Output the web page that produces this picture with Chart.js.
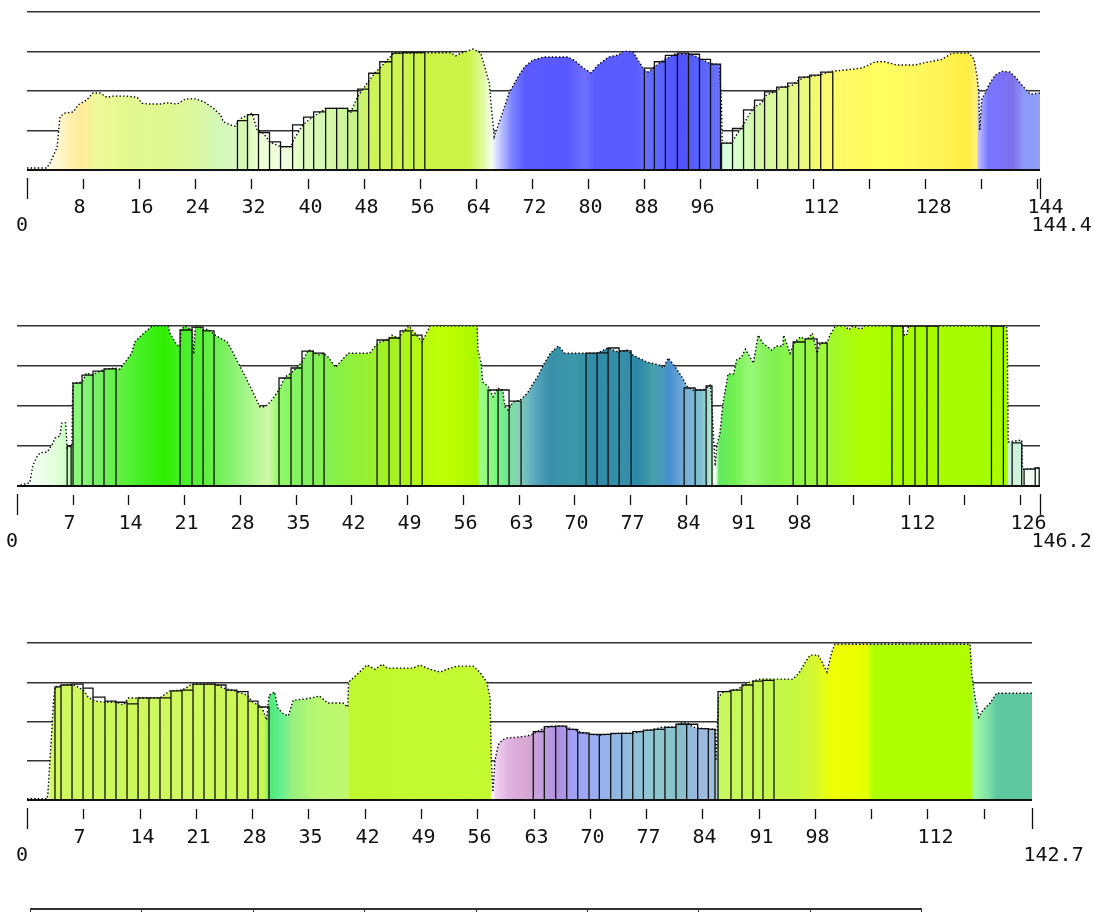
<!DOCTYPE html>
<html>
<head>
<meta charset="utf-8">
<script src="https://cdn.jsdelivr.net/npm/chart.js@4.4.1/dist/chart.umd.min.js"></script>
<style>
  body { margin: 0; background: #fff; width: 1094px; height: 912px; overflow: hidden; position: relative; }
  canvas { position: absolute; left: 0; }
  #c1 { top: 0; }
  #c2 { top: 300px; }
  #c3 { top: 620px; }
  #legendRow { position: absolute; left: 30px; top: 908px; width: 892px; height: 8px; display: flex;
               border-top: 2px solid #333; }
  #legendRow div { flex: 1; border-left: 1.5px solid #333; }
  #legendRow div:last-child { border-right: 1.5px solid #333; }
</style>
</head>
<body>
<canvas id="c1" width="1094" height="240"></canvas>
<canvas id="c2" width="1094" height="260"></canvas>
<canvas id="c3" width="1094" height="260"></canvas>
<div id="legendRow"><div></div><div></div><div></div><div></div><div></div><div></div><div></div><div></div></div>
<script>
// ---- panel 1 ----
const p1Max = 144.4;
const p1EndLabel = '144.4';
const p1Ticks = [0, 8, 16, 24, 32, 40, 48, 56, 64, 72, 80, 88, 96, 104, 112, 120, 128, 136, 144];
const p1TickLabels = ['', '8', '16', '24', '32', '40', '48', '56', '64', '72', '80', '88', '96', '', '112', '', '128', '', '144'];
const p1Profile = [
  [0, 0.05], [2.8, 0.05], [3.3, 0.18], [4.3, 0.58], [4.7, 1.35], [5.4, 1.44], [6.6, 1.47], [7.3, 1.65],
  [8.5, 1.77], [9.4, 1.95], [10.4, 1.95], [11.4, 1.84], [12.3, 1.87], [14.2, 1.87], [15.7, 1.84], [16.4, 1.69],
  [17.3, 1.67], [19, 1.67], [20, 1.7], [21.4, 1.67], [22.6, 1.8], [24, 1.8], [25.2, 1.73], [26.6, 1.56],
  [27.6, 1.39], [28, 1.22], [29, 1.14], [29.7, 1.11], [30.4, 1.3], [31.4, 1.39], [32.1, 1.44], [32.8, 1.01],
  [33.7, 0.93], [34.6, 0.71], [36.1, 0.59], [37.6, 0.59], [38, 0.76], [39.3, 1.14], [40.7, 1.34], [41.9, 1.47],
  [42.6, 1.56], [45.7, 1.56], [46.1, 1.44], [47.1, 1.85], [48.5, 2.2], [49.7, 2.48], [50.4, 2.6], [51.6, 2.83],
  [52.3, 2.96], [60.4, 2.97], [61.1, 2.89], [61.9, 2.96], [63.6, 3.06], [64.7, 2.96], [65.1, 2.7], [65.9, 2.2],
  [66.1, 1.77], [66.6, 0.84], [67.6, 1.35], [68.7, 1.94], [70, 2.36], [70.9, 2.61], [72.1, 2.78], [73.6, 2.86],
  [77.1, 2.86], [78, 2.78], [79.3, 2.58], [80.4, 2.46], [81.4, 2.66], [82.9, 2.86], [84.3, 2.91], [85.1, 3.01],
  [86.4, 2.99], [87.1, 2.78], [88, 2.53], [88.6, 2.48], [89.4, 2.61], [90.9, 2.8], [92.3, 2.93], [94.7, 2.93],
  [95.9, 2.83], [97.3, 2.7], [98.7, 2.66], [99, 1.69], [99.1, 0.68], [100.4, 0.68], [101.6, 1.01], [102.1, 1.14],
  [102.9, 1.39], [103.7, 1.6], [104.7, 1.69], [105.4, 1.9], [106.6, 1.98], [107.6, 2.1], [109, 2.13], [109.7, 2.25],
  [110.9, 2.35], [112.9, 2.4], [114.7, 2.5], [116.6, 2.53], [119, 2.58], [120, 2.66], [120.9, 2.74], [122.3, 2.74],
  [123.9, 2.66], [126.6, 2.66], [128.6, 2.74], [130.4, 2.8], [131.9, 2.96], [134.3, 2.96], [135, 2.8], [135.4, 2.4],
  [135.7, 1.95], [135.8, 1.0], [136.1, 1.8], [136.6, 1.95], [137.1, 2.15], [138, 2.4], [139, 2.5], [140.1, 2.48],
  [140.9, 2.35], [141.9, 2.13], [143, 1.92], [144.4, 1.95]
];
const p1BarEdges = [
  [30.0, 31.43, 33.0, 34.57, 36.14, 37.86, 39.43, 40.86, 42.57, 44.14, 45.71, 47.14, 48.71, 50.29, 52.0, 53.57, 55.14, 56.71],
  [88.0, 89.43, 91.0, 92.71, 94.29, 95.86, 97.43, 98.86],
  [99.0, 100.57, 102.14, 103.71, 105.14, 106.86, 108.43, 110.0, 111.57, 113.14, 114.86]
];
const p1BarTops = [
  [1.25, 1.4, 0.95, 0.71, 0.59, 1.14, 1.34, 1.47, 1.56, 1.56, 1.5, 2.05, 2.45, 2.74, 2.96, 2.97, 2.97],
  [2.58, 2.74, 2.9, 2.96, 2.93, 2.8, 2.68],
  [0.68, 1.05, 1.52, 1.77, 1.98, 2.1, 2.2, 2.35, 2.4, 2.48]
];
const p1Colors = [
  [0, '#fffbe8'], [3, '#fffbe8'], [4.5, '#fff8d0'], [6, '#fff0b0'], [8, '#ffec98'], [10, '#eefa9a'],
  [14, '#e4f890'], [20, '#e0f890'], [24, '#dcf8a0'], [27, '#d4f8b8'], [29.5, '#d8f8c0'], [31, '#d8f8b0'],
  [33, '#ecffd8'], [37, '#f2ffe0'], [39, '#e0fcc0'], [43, '#d4f8a8'], [47, '#c8f288'], [48.5, '#cef45a'],
  [56, '#ccf448'], [63, '#ccf448'], [65, '#e0faa0'], [66.3, '#f4fff0'], [66.6, '#e8ecff'], [69, '#8088ff'],
  [71, '#5a5aff'], [77, '#5858ff'], [79.5, '#7070ff'], [81, '#5a5cff'], [87, '#5a5cff'], [88, '#6a70ff'],
  [90, '#5a66ff'], [93, '#5050ff'], [96, '#5a64ff'], [98.9, '#6a70ff'], [99, '#d8ffe4'], [101, '#d8ffd0'],
  [104, '#d4f8a8'], [108, '#e0f890'], [112, '#f0f878'], [114, '#fff870'], [118, '#fffa60'], [122, '#fffe60'],
  [126, '#fff860'], [130, '#fff458'], [134, '#ffee40'], [135.4, '#fff080'], [135.6, '#c0c0ff'], [137, '#7878ff'],
  [139, '#7c70f8'], [140.5, '#8070e8'], [142, '#8c98f8'], [144.4, '#90a0f8']
];

// ---- panel 2 ----
const p2Max = 128.5;
const p2EndLabel = '146.2';
const p2Ticks = [0, 7, 14, 21, 28, 35, 42, 49, 56, 63, 70, 77, 84, 91, 98, 105, 112, 119, 126];
const p2TickLabels = ['', '7', '14', '21', '28', '35', '42', '49', '56', '63', '70', '77', '84', '91', '98', '', '112', '', '126'];
const p2Profile = [
  [0, 0], [1.6, 0.08], [2.0, 0.52], [2.5, 0.73], [2.9, 0.83], [3.8, 0.85], [4.4, 1.03], [4.8, 1.2], [5.4, 1.25],
  [5.6, 1.57], [6.1, 1.58], [6.3, 0.95], [6.9, 1.0], [7.0, 2.57], [8.2, 2.6], [8.7, 2.82], [9.5, 2.78],
  [10.4, 2.87], [11.1, 2.92], [12.3, 2.95], [12.9, 2.92], [13.6, 3.1], [14.4, 3.32], [14.8, 3.6], [15.9, 3.82],
  [17, 4], [19, 4], [19.2, 3.82], [20.1, 3.52], [20.5, 3.5], [20.6, 3.9], [21.1, 4], [22, 3.9], [22.2, 3.3],
  [22.4, 4], [22.8, 4], [23.4, 3.9], [24, 3.92], [24.9, 3.77], [26.4, 3.6], [27.1, 3.35], [27.8, 3.07],
  [28.7, 2.73], [29.7, 2.32], [30.5, 1.98], [31.2, 1.98], [32, 2.15], [32.9, 2.4], [33.7, 2.73], [34.4, 2.82],
  [35.1, 2.95], [35.8, 3.1], [36.6, 3.4], [37.2, 3.37], [37.8, 3.27], [38.5, 3.32], [39.1, 3.22], [40, 2.97],
  [40.6, 3.1], [41.6, 3.32], [44.3, 3.32], [45, 3.5], [45.6, 3.6], [46.5, 3.65], [47.1, 3.77], [47.9, 3.7],
  [48.5, 3.85], [49.2, 4], [50, 3.82], [50.9, 3.6], [51.5, 3.85], [51.9, 4], [57.8, 4], [57.9, 3.4],
  [58.3, 3.07], [58.5, 2.6], [59.2, 2.48], [59.8, 2.23], [60.4, 2.45], [61, 2.4], [61.3, 1.98], [61.7, 1.9],
  [62.3, 2.1], [63.2, 2.15], [64.1, 2.32], [64.7, 2.52], [65.5, 2.77], [66.1, 3.02], [67, 3.32], [68, 3.5],
  [68.8, 3.32], [72.9, 3.32], [74.2, 3.45], [75.5, 3.35], [76.6, 3.4], [77.4, 3.27], [79.1, 3.1], [80.8, 3.02],
  [81.2, 2.95], [81.8, 3.2], [82.7, 2.97], [83.5, 2.73], [84.2, 2.48], [84.9, 2.4], [86.2, 2.4], [87.1, 2.52],
  [87.3, 2.0], [87.5, 1.2], [87.7, 0.5], [87.9, 1.0], [88.3, 1.33], [88.7, 2.1], [89.2, 2.65], [89.3, 2.8],
  [90, 2.8], [90.4, 3.15], [91, 3.22], [91.5, 3.42], [92.5, 3.07], [93.1, 3.77], [93.7, 3.57], [94.8, 3.4],
  [95.4, 3.5], [96.2, 3.5], [96.3, 3.77], [97.1, 3.32], [97.7, 3.6], [98.4, 3.73], [99.2, 3.65], [99.9, 3.82],
  [100.5, 3.32], [100.9, 3.57], [101.8, 3.6], [102.1, 3.77], [102.8, 4], [104, 4], [104.5, 3.9], [105, 4],
  [106, 3.92], [106.5, 4], [111.2, 4], [111.5, 3.75], [111.8, 3.8], [112, 4], [124.3, 4], [124.4, 3.57],
  [124.5, 1.1], [126.2, 1.15], [126.3, 0.42], [128.5, 0.45]
];
const p2BarEdges = [
  [6.3, 6.8],
  [7.04, 8.17, 9.55, 10.93, 12.44],
  [20.48, 21.98, 23.37, 24.75],
  [32.91, 34.42, 35.8, 37.19, 38.57],
  [45.23, 46.73, 48.12, 49.5, 50.88],
  [59.17, 60.43, 61.81, 63.32],
  [71.48, 72.86, 74.25, 75.63, 77.14],
  [83.8, 85.18, 86.56, 87.3],
  [97.49, 99.0, 100.5, 101.76],
  [109.9, 111.3, 112.8, 114.3, 115.7],
  [122.4, 123.9],
  [125.0, 126.2],
  [126.5, 127.9, 128.4]
];
const p2BarTops = [
  [1.0],
  [2.57, 2.77, 2.87, 2.93],
  [3.9, 3.97, 3.88],
  [2.7, 2.95, 3.37, 3.32],
  [3.65, 3.7, 3.88, 3.77],
  [2.4, 2.4, 2.12],
  [3.32, 3.33, 3.45, 3.38],
  [2.45, 2.4, 2.5],
  [3.6, 3.68, 3.57],
  [4, 4, 4, 4],
  [4],
  [1.08],
  [0.42, 0.45]
];
const p2Colors = [
  [0, '#ffffff'], [2, '#f4fff4'], [5, '#e0ffd8'], [6.8, '#c0ffb8'], [7, '#90f880'], [10, '#78f068'],
  [13, '#60f040'], [16, '#40f020'], [18.5, '#30ee00'], [21, '#48f028'], [24, '#60f040'], [27, '#88f070'],
  [30, '#b8f898'], [31.5, '#d0f8a8'], [33, '#90f868'], [36, '#80f060'], [40, '#88f048'], [44, '#98f030'],
  [48, '#a8f020'], [51, '#b8fa10'], [54, '#c0ff00'], [57.8, '#a8f800'], [58.2, '#a0ff80'], [60, '#80f880'],
  [61.5, '#70e890'], [63, '#88d0b8'], [65, '#5aa8c0'], [67, '#3890a8'], [70, '#3a98a8'], [73, '#2e8aa8'],
  [76, '#3890a8'], [78, '#2a88a8'], [80, '#48a0a8'], [82, '#4890d0'], [84, '#78b0d8'], [86, '#80c0d0'],
  [87.3, '#c0f0d0'], [87.7, '#ffffff'], [88.2, '#60e860'], [90, '#70f050'], [92, '#98f878'], [95, '#80f050'],
  [98, '#90f848'], [102, '#a0f830'], [106, '#b0ff00'], [110, '#a8fc00'], [124.4, '#a8fc00'],
  [124.5, '#c8f0d8'], [126.2, '#d0f4dc'], [126.3, '#f0fff0'], [128.5, '#f0fff0']
];

// ---- panel 3 ----
const p3Max = 125;
const p3EndLabel = '142.7';
const p3Ticks = [0, 7, 14, 21, 28, 35, 42, 49, 56, 63, 70, 77, 84, 91, 98, 105, 112, 119];
const p3TickLabels = ['', '7', '14', '21', '28', '35', '42', '49', '56', '63', '70', '77', '84', '91', '98', '', '112', ''];
const p3Profile = [
  [0, 0.03], [2.5, 0.03], [2.6, 0.17], [2.9, 1.15], [3.1, 1.83], [3.3, 2.54], [3.5, 2.88], [4.7, 2.93],
  [5.6, 2.95], [6.3, 2.88], [7, 2.8], [7.6, 2.62], [8.5, 2.52], [9.7, 2.49], [11.2, 2.49], [12, 2.42],
  [12.6, 2.6], [16.5, 2.6], [17.8, 2.78], [19.3, 2.8], [20.5, 2.95], [23.6, 2.95], [24.4, 2.85], [25.9, 2.78],
  [27.4, 2.67], [28.1, 2.49], [29.2, 2.37], [29.8, 2.04], [30.1, 2.67], [30.8, 2.75], [31.2, 2.34], [31.8, 2.21],
  [32.5, 2.14], [33.1, 2.54], [34.4, 2.57], [35.4, 2.6], [36.4, 2.65], [37.4, 2.47], [39.3, 2.47], [39.9, 2.37],
  [40, 3.0], [41.2, 3.23], [42.3, 3.44], [43.3, 3.33], [44.2, 3.46], [44.8, 3.36], [48, 3.36], [48.9, 3.44],
  [50.1, 3.33], [51.4, 3.26], [52.2, 3.33], [53.5, 3.41], [55.5, 3.41], [56.3, 3.26], [57.2, 3.0], [57.6, 2.6],
  [57.75, 1.0], [57.95, 0.2], [58.2, 1.0], [58.6, 1.4], [59.1, 1.53], [59.7, 1.58], [60.9, 1.6], [62.2, 1.63],
  [62.9, 1.68], [64, 1.8], [65, 1.88], [66.7, 1.88], [67.5, 1.83], [68.8, 1.73], [69.8, 1.68], [71.3, 1.65],
  [72.5, 1.68], [73.8, 1.7], [75.4, 1.7], [76.6, 1.76], [77.9, 1.8], [79.1, 1.86], [80.6, 1.86], [81.2, 1.96],
  [82.2, 1.96], [82.8, 1.86], [83.7, 1.83], [85.6, 1.8], [85.7, 1.0], [86, 2.62], [86.6, 2.75], [87.4, 2.78],
  [88.4, 2.82], [89.6, 2.98], [90.3, 3.03], [91.2, 3.08], [93, 3.08], [95.3, 3.08], [96.1, 3.26], [96.8, 3.51],
  [97.4, 3.69], [98.4, 3.69], [98.9, 3.51], [99.5, 3.26], [100.1, 3.77], [100.5, 3.97], [117.3, 3.97],
  [117.5, 3.23], [117.9, 2.62], [118.4, 2.11], [118.9, 2.29], [119.8, 2.47], [120.6, 2.72], [125, 2.72]
];
const p3BarEdges = [
  [3.48, 4.23, 5.6, 6.97, 8.21, 9.7, 11.07, 12.44, 13.81, 15.17, 16.54, 17.91, 19.28, 20.65, 22.01, 23.38, 24.75, 26.12, 27.49, 28.73, 30.1],
  [62.97, 64.34, 65.76, 67.13, 68.5, 69.9, 71.18, 72.6, 73.97, 75.34, 76.66, 77.99, 79.35, 80.72, 82.05, 83.42, 84.74, 85.57],
  [85.95, 87.56, 88.93, 90.3, 91.54, 92.91]
];
const p3BarTops = [
  [2.88, 2.93, 2.95, 2.85, 2.62, 2.52, 2.49, 2.45, 2.6, 2.6, 2.6, 2.78, 2.8, 2.95, 2.95, 2.93, 2.8, 2.76, 2.52, 2.37],
  [1.74, 1.87, 1.88, 1.8, 1.71, 1.67, 1.67, 1.7, 1.7, 1.74, 1.78, 1.8, 1.85, 1.93, 1.93, 1.82, 1.8],
  [2.76, 2.8, 2.93, 3.03, 3.05]
];
const p3Colors = [
  [0, '#ffffff'], [2.5, '#f8fff0'], [3, '#d0f860'], [10, '#ccf85c'], [20, '#d0f860'], [29.5, '#c8f850'],
  [30.2, '#50e878'], [31.5, '#60f090'], [33, '#98f080'], [36, '#b8f870'], [39.8, '#c0f870'], [40.2, '#c0f830'],
  [57.6, '#c4fa30'], [57.9, '#ffffff'], [58.3, '#f0d0f0'], [60, '#e0b0e0'], [62, '#d8a8d0'], [64, '#c0a0e0'],
  [66, '#b090e0'], [68, '#a0a0f8'], [71, '#98b0f0'], [74, '#90b8e0'], [78, '#90c8d0'], [81, '#88c0c8'],
  [83, '#98b8e0'], [85.7, '#a0c0e0'], [86, '#c8f860'], [92, '#c4f850'], [96, '#c8f840'], [98, '#d8f830'],
  [99.5, '#e8ff10'], [100.5, '#f0ff00'], [104.5, '#e4ff00'], [105.2, '#b0ff00'], [117.3, '#b0ff00'],
  [117.8, '#a0ffa0'], [119.5, '#80e0a8'], [120.6, '#60c8a0'], [125, '#60c8a0']
];

// horizontal gradient along the x scale
function makeFill(stops, max) {
  return function (c) {
    const chart = c.chart;
    const xs = chart.scales.x;
    if (!chart.chartArea || !xs) return 'rgba(0,0,0,0)';
    const g = chart.ctx.createLinearGradient(xs.getPixelForValue(0), 0, xs.getPixelForValue(max), 0);
    stops.forEach(s => g.addColorStop(Math.min(1, Math.max(0, s[0] / max)), s[1]));
    return g;
  };
}

// outline of the stacked columns: up, across, down for every column
function stepPath(edges, tops) {
  const pts = [];
  edges.forEach((grp, g) => {
    const t = tops[g];
    pts.push({ x: grp[0], y: 0 });
    for (let i = 0; i < t.length; i++) {
      pts.push({ x: grp[i], y: t[i] }, { x: grp[i + 1], y: t[i] }, { x: grp[i + 1], y: 0 });
    }
    pts.push({ x: grp[grp.length - 1], y: null });
  });
  return pts;
}

const tickRow = {
  id: 'tickRow',
  afterDatasetsDraw(chart) {
    // solid base line over the fill
    const ctx = chart.ctx, a = chart.chartArea, y0 = chart.scales.y.getPixelForValue(0);
    ctx.save();
    ctx.strokeStyle = '#111';
    ctx.lineWidth = 2;
    ctx.beginPath();
    ctx.moveTo(a.left, y0);
    ctx.lineTo(a.right, y0);
    ctx.stroke();
    ctx.restore();
  },
  afterDraw(chart, args, opts) {
    const ctx = chart.ctx, xs = chart.scales.x, base = chart.chartArea.bottom;
    ctx.save();
    ctx.strokeStyle = '#111';
    ctx.fillStyle = '#111';
    ctx.lineWidth = 1.3;
    ctx.font = '20px "DejaVu Sans Mono", monospace';
    ctx.textBaseline = 'middle';
    ctx.textAlign = 'left';
    const mark = (v, y1, y2) => {
      const x = Math.round(xs.getPixelForValue(v)) + 0.5;
      ctx.beginPath();
      ctx.moveTo(x, base + y1);
      ctx.lineTo(x, base + y2);
      ctx.stroke();
      return x;
    };
    opts.ticks.forEach((v, i) => {
      const x = v === 0 ? mark(v, 8, 29) : mark(v, 9, 19);
      if (opts.labels[i]) ctx.fillText(opts.labels[i], x - 10, base + 38);
    });
    const xe = mark(opts.end, 8, 29);
    ctx.fillText('0', xs.getPixelForValue(0) - 11, base + 56);
    ctx.fillText(opts.endLabel, xe - 9, base + 56);
    ctx.restore();
  }
};

function panel(id, max, profile, edges, tops, colors, ticks, labels, endLabel, pad) {
  new Chart(document.getElementById(id), {
    type: 'line',
    data: {
      datasets: [
        {
          data: stepPath(edges, tops),
          borderColor: '#111',
          borderWidth: 1.3,
          fill: false,
          pointRadius: 0,
          order: 0
        },
        {
          data: profile.map(p => ({ x: p[0], y: p[1] })),
          borderColor: '#000',
          borderWidth: 1.4,
          borderDash: [1.4, 2.2],
          backgroundColor: makeFill(colors, max),
          fill: 'origin',
          pointRadius: 0,
          tension: 0,
          order: 1
        }
      ]
    },
    options: {
      responsive: false,
      animation: false,
      events: [],
      layout: { padding: pad },
      scales: {
        x: { type: 'linear', min: 0, max: max, display: false },
        y: {
          min: 0, max: 4,
          afterFit: s => { s.width = 0; },
          ticks: { display: false, stepSize: 1 },
          border: { display: false },
          grid: { drawTicks: false, color: '#333', lineWidth: 1.4 }
        }
      },
      plugins: {
        legend: { display: false },
        tooltip: { enabled: false },
        tickRow: { ticks: ticks, labels: labels, end: max, endLabel: endLabel }
      }
    },
    plugins: [tickRow]
  });
}

panel('c1', p1Max, p1Profile, p1BarEdges, p1BarTops, p1Colors, p1Ticks, p1TickLabels, p1EndLabel,
  { top: 12, bottom: 70, left: 27, right: 54 });
panel('c2', p2Max, p2Profile, p2BarEdges, p2BarTops, p2Colors, p2Ticks, p2TickLabels, p2EndLabel,
  { top: 26, bottom: 74, left: 17, right: 54 });
panel('c3', p3Max, p3Profile, p3BarEdges, p3BarTops, p3Colors, p3Ticks, p3TickLabels, p3EndLabel,
  { top: 23, bottom: 80, left: 27, right: 62 });
</script>
</body>
</html>
